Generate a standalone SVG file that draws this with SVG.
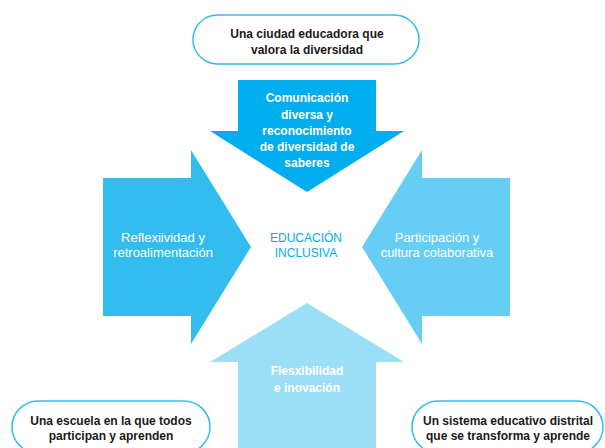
<svg xmlns="http://www.w3.org/2000/svg" width="605" height="448" viewBox="0 0 605 448">
<style>
.pill{fill:#fff;stroke:#33bdef;stroke-width:1.5}
.pt{font-family:"Liberation Sans",Arial,sans-serif;font-size:12px;font-weight:bold;fill:#1a1a1a;text-anchor:middle}
.at{font-family:"Liberation Sans",Arial,sans-serif;font-size:12px;font-weight:bold;fill:#fff;text-anchor:middle}
.ar{font-family:"Liberation Sans",Arial,sans-serif;font-size:13px;fill:#fff;text-anchor:middle}
.ct{font-family:"Liberation Sans",Arial,sans-serif;font-size:12px;fill:#00aeef;text-anchor:middle}
</style>
<rect width="605" height="448" fill="#fff"/>
<g id="arrow-top">
<polygon points="238,80 376,80 376,131 404,131 307,192 210,131 238,131" fill="#00aeef"/>
<text class="at" x="307" y="102">Comunicación</text>
<text class="at" x="307" y="118.5">diversa y</text>
<text class="at" x="307" y="135">reconocimiento</text>
<text class="at" x="307" y="151">de diversidad de</text>
<text class="at" x="307" y="167">saberes</text>
</g>
<g id="arrow-left">
<polygon points="103,178 191,178 191,150 251,247 191,344 191,316 103,316" fill="#33bdef"/>
<text class="ar" x="163" y="242">Reflexiividad y</text>
<text class="ar" x="163" y="257">retroalimentación</text>
</g>
<g id="arrow-right">
<polygon points="510,178 422,178 422,150 362,247 422,344 422,316 510,316" fill="#66cdf4"/>
<text class="ar" x="437" y="242">Participación y</text>
<text class="ar" x="437" y="257">cultura colaborativa</text>
</g>
<g id="arrow-bottom">
<polygon points="238,448 376,448 376,362 404,362 307,303 210,362 238,362" fill="#9ddef7"/>
<text class="at" x="307" y="375">Flesxibilidad</text>
<text class="at" x="307" y="392">e inovación</text>
</g>
<g id="center">
<text class="ct" x="306" y="242">EDUCACIÓN</text>
<text class="ct" x="306" y="257">INCLUSIVA</text>
</g>
<g id="pill-top">
<rect class="pill" x="193" y="15" width="226" height="49" rx="24.5"/>
<text class="pt" x="307" y="38">Una ciudad educadora que</text>
<text class="pt" x="307" y="54">valora la diversidad</text>
</g>
<g id="pill-bottom-left">
<rect class="pill" x="12" y="401" width="198" height="52" rx="26"/>
<text class="pt" x="111" y="425">Una escuela en la que todos</text>
<text class="pt" x="111" y="440">participan y aprenden</text>
</g>
<g id="pill-bottom-right">
<rect class="pill" x="412" y="401" width="191" height="52" rx="26"/>
<text class="pt" x="508" y="425">Un sistema educativo distrital</text>
<text class="pt" x="508" y="440">que se transforma y aprende</text>
</g>
<g id="connectors"/>
</svg>
